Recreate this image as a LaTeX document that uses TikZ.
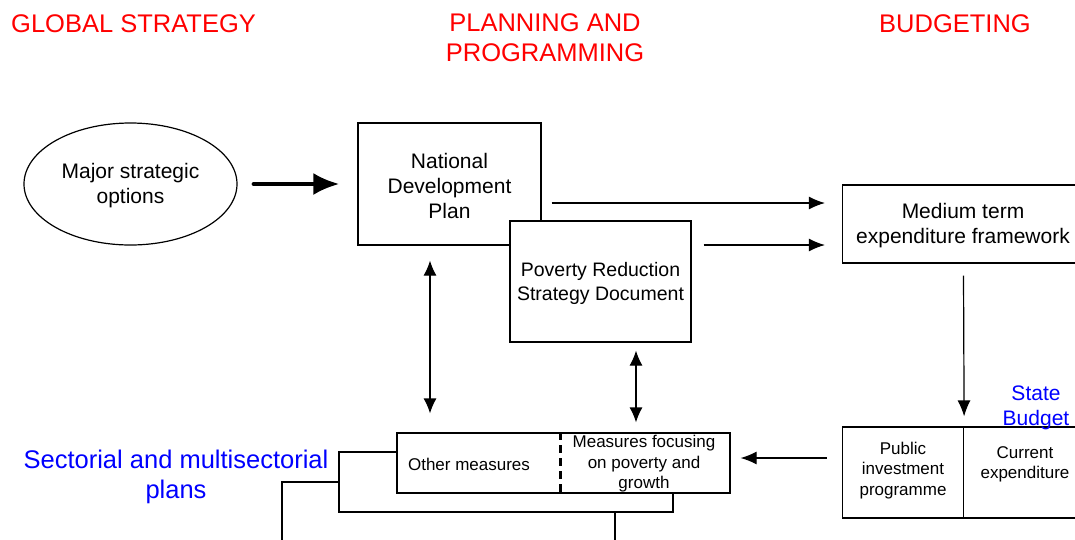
\documentclass[tikz,border=0pt]{standalone}
\usepackage{fontspec}
\setmainfont{Liberation Sans}
\usepackage{tikz}
\usetikzlibrary{arrows.meta}
\usetikzlibrary{calc}
\usetikzlibrary{shapes.geometric}
\definecolor{titlered}{RGB}{255,0,0}
\definecolor{planblue}{RGB}{0,0,255}

\begin{document}
\begin{tikzpicture}[x=1pt, y=-1pt,
        box/.style={draw, line width=1.2pt, fill=white, align=center, inner sep=0pt},
        bigtext/.style={font=\fontsize{21}{25}\selectfont, align=center, inner sep=0pt},
        smalltext/.style={font=\fontsize{17}{20.5}\selectfont, align=center, inner sep=0pt},
        headtext/.style={font=\fontsize{25.5}{30}\selectfont, align=center, inner sep=0pt},
        arr/.style={line width=1.2pt, -{Latex[length=16pt, width=13pt]}},
        darr/.style={line width=1.2pt, {Latex[length=15pt, width=13pt]}-{Latex[length=15pt, width=13pt]}},
        fatarr/.style={line width=4pt, line cap=round, -{Latex[length=26pt, width=22pt]}}]
        \useasboundingbox (0, 0) rectangle (1075, 539);
        \node[headtext, titlered, anchor=base west] (glob) at (11, 32) {GLOBAL STRATEGY};
        \node[headtext, titlered, anchor=north] (plan) at (545, 13.7) {PLANNING AND\\PROGRAMMING};
        \node[headtext, titlered, anchor=base] (budg) at (955, 32) {BUDGETING};
        \node[ellipse, draw, line width=1.2pt, minimum width=213pt, minimum height=122pt] (opts) at (130.5, 184) {};
        \node[bigtext] (optstext) at (130.5, 186) {Major strategic\\options};
        \node[box, minimum width=183pt, minimum height=122pt] (ndp) at (449.5, 184) {};
        \node[bigtext] (ndptext) at (449.5, 186) {National\\Development\\Plan};
        \node[box, minimum width=181pt, minimum height=121pt] (prsd) at (600.5, 281.5) {};
        \node[font=\fontsize{19.5}{24}\selectfont, align=center, inner sep=0pt] (prsdtext) at (600.5, 283) {Poverty Reduction\\Strategy Document};
        \node[box, minimum width=242pt, minimum height=78pt] (mtef) at (963.5, 224) {};
        \node[bigtext] (mteftext) at (963, 226) {Medium term\\expenditure framework};
        \node[box, minimum width=121pt, minimum height=91pt] (pip) at (903, 472.5) {};
        \node[box, minimum width=121pt, minimum height=91pt] (cur) at (1024, 472.5) {};
        \node[smalltext] (piptext) at (903, 470.5) {Public\\investment\\programme};
        \node[smalltext] (curtext) at (1025, 464.5) {Current\\expenditure};
        \node[bigtext, planblue] (state) at (1036, 408) {State\\Budget};
        \node[box, minimum width=333pt, minimum height=120pt] (lay3) at (448.5, 542) {};
        \node[box, minimum width=334pt, minimum height=60pt] (lay2) at (506, 482) {};
        \node[box, minimum width=333pt, minimum height=60pt] (meas) at (563.5, 463) {};
        \node[smalltext] (oth) at (469, 464.5) {Other measures};
        \node[smalltext] (foc) at (644, 464) {Measures focusing\\on poverty and\\growth};
        \draw[line width=2.4pt, dash pattern=on 8pt off 5pt] ($(meas.north west)+(164, 0)$) -- ($(meas.south west)+(164, 0)$);
        \node[headtext, planblue] (sect) at (176, 477) {Sectorial and multisectorial\\plans};
        \draw[fatarr] ($(opts.east)+(16, 0)$) -- ($(ndp.west)+(-18, 0)$);
        \draw[arr] ($(ndp.east)+(10, 19)$) -- ($(mtef.west)+(-17, -21)$);
        \draw[arr] ($(prsd.east)+(12, -36.5)$) -- ($(mtef.west)+(-17, 21)$);
        \draw[arr] ($(mtef.south)+(0, 12)$) -- ($(pip.north east)+(0, -10)$);
        \draw[arr] ($(pip.west)+(-15, -14.5)$) -- ($(meas.east)+(10, -5)$);
        \draw[darr] ($(ndp.south)+(-19.5, 15)$) -- ($(meas.north)+(-133.5, -19)$);
        \draw[darr] ($(prsd.south)+(35.5, 8)$) -- ($(meas.north)+(72.5, -10)$);
        \end{tikzpicture}
\end{document}
